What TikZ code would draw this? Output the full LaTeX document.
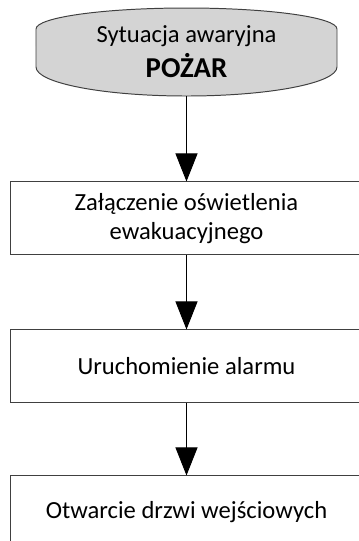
\documentclass[tikz,border=0pt]{standalone}
\usepackage{fontspec}
\setmainfont{Carlito}
\usetikzlibrary{positioning,arrows.meta}

\begin{document}
\begin{tikzpicture}
[font=\fontsize{17.5}{20.3}\selectfont, line width=0.7pt,
stepbox/.style={rectangle, draw=black!75, minimum width=8.8cm, minimum height=1.825cm, align=center, inner sep=0pt},
flow/.style={-{Triangle[length=0.7cm, width=0.55cm]}, draw=black}]

\useasboundingbox (0,0) rectangle (8.975,-13.525);
\clip (0,0) rectangle (8.975,-13.525);

% emergency start shape
\draw[draw=black!75, fill=black!17] (0.9,-0.725)
    arc[start angle=180, end angle=0, x radius=3.7625cm, y radius=0.525cm]
    -- (8.425,-1.675)
    arc[start angle=0, end angle=-180, x radius=3.7625cm, y radius=0.725cm]
    -- cycle;
\node[rectangle, minimum width=7.525cm, minimum height=2.2cm, align=center, inner sep=0pt,
    font=\fontsize{17.5}{25}\selectfont] (fire) at (4.6625,-1.3)
    {Sytuacja awaryjna\\\fontsize{20.5}{25}\selectfont\textbf{POŻAR}};

\node[stepbox, below=2.125cm of fire] (light) {Załączenie oświetlenia\\ewakuacyjnego};
\node[stepbox, below=1.85cm of light] (alarm) {Uruchomienie alarmu};
\node[stepbox, below=1.8cm of alarm] (doors) {Otwarcie drzwi wejściowych};

\draw[flow] (fire) -- (light);
\draw[flow] (light) -- (alarm);
\draw[flow] (alarm) -- (doors);

\end{tikzpicture}
\end{document}
